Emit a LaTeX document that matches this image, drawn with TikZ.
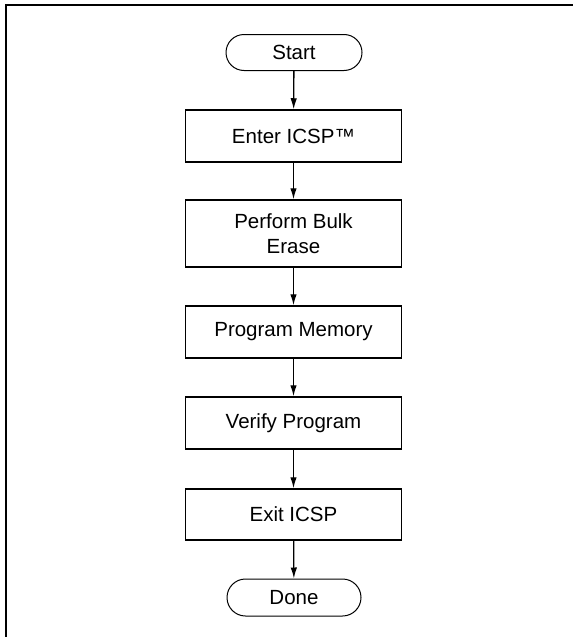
\documentclass[tikz,border=0pt]{standalone}
\usepackage{fontspec}
\setmainfont{Liberation Sans}
\usetikzlibrary{arrows.meta,shapes.misc}
\begin{document}
\begin{tikzpicture}[x=1pt,y=1pt,
  every node/.style={font=\fontsize{20.5}{25}\selectfont, inner sep=0pt, align=center},
  procbox/.style={draw, rectangle, line width=1.5pt, minimum width=216pt, minimum height=52pt},
  term/.style={draw, rounded rectangle, line width=1pt, minimum width=136pt, minimum height=36pt},
  flow/.style={line width=1.3pt, -{Latex[length=11pt,width=6.5pt]}},
  frameline/.style={line width=2pt}
]
\useasboundingbox (0,0) rectangle (573,-637);
\coordinate (fa) at (6,-637);
\coordinate (fb) at (6,-5);
\coordinate (fc) at (573,-5);
\draw[frameline] (fa) -- (fb) -- (fc);

\node[term] (start) at (294,-52.5) {Start};
\node[procbox] (enter) at (293.5,-136) {Enter ICSP™};
\node[procbox, minimum height=67pt] (erase) at (293.5,-233.5) {Perform Bulk\\Erase};
\node[procbox] (prog) at (293.5,-332) {Program Memory};
\node[procbox] (verify) at (293.5,-423) {Verify Program};
\node[procbox, minimum height=51pt] (exit) at (293.5,-514.5) {Exit ICSP};
\node[term, minimum width=134pt, minimum height=37pt] (done) at (294,-597.5) {Done};

\draw[flow] (start) -- (enter);
\draw[flow] (enter) -- (erase);
\draw[flow] (erase) -- (prog);
\draw[flow] (prog) -- (verify);
\draw[flow] (verify) -- (exit);
\draw[flow] (exit) -- (done);
\end{tikzpicture}
\end{document}
